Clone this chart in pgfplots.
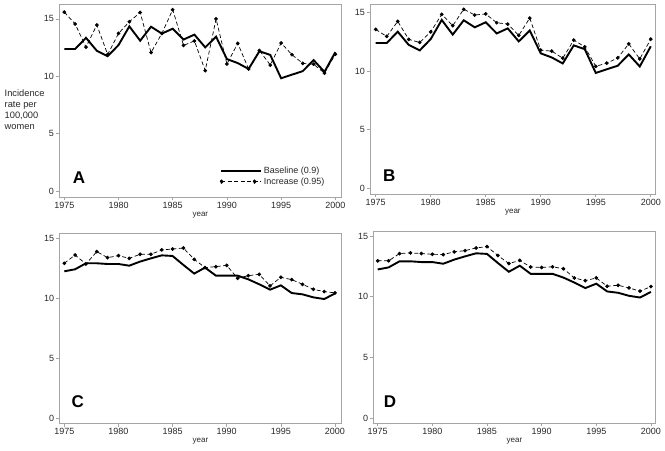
\documentclass[border=0pt]{standalone}
\usepackage{fontspec}
\setmainfont{Liberation Sans}
\usepackage{pgfplots}
\pgfplotsset{compat=1.18}
\usepackage{pgfplotstable}

\pgfplotstableread{
year bA iA iB bC iC iD
1975 12.38 15.59 13.54 12.25 12.92 12.96
1976 12.38 14.56 12.94 12.42 13.61 12.96
1977 13.35 12.54 14.23 12.92 12.86 13.56
1978 12.22 14.47 12.69 12.92 13.89 13.61
1979 11.75 11.90 12.43 12.86 13.39 13.56
1980 12.72 13.73 13.34 12.86 13.56 13.50
1981 14.35 14.76 14.83 12.72 13.33 13.48
1982 13.10 15.56 13.86 13.06 13.67 13.70
1983 14.32 12.07 15.26 13.33 13.67 13.80
1984 13.72 13.73 14.77 13.58 14.03 14.02
1985 14.15 15.80 14.86 13.53 14.11 14.13
1986 13.20 12.69 14.11 12.78 14.19 13.40
1987 13.63 13.08 14.00 12.06 13.25 12.74
1988 12.52 10.50 13.03 12.56 12.56 12.99
1989 13.45 15.00 14.51 11.89 12.64 12.45
1990 11.50 11.07 11.77 11.89 12.75 12.42
1991 11.15 12.87 11.69 11.89 11.67 12.47
1992 10.64 10.64 11.09 11.58 11.89 12.31
1993 12.18 12.25 12.63 11.17 12.00 11.55
1994 11.86 10.98 12.06 10.72 11.03 11.33
1995 9.83 12.90 10.40 11.08 11.75 11.55
1996 10.14 11.88 10.66 10.44 11.56 10.87
1997 10.45 11.12 11.11 10.33 11.17 10.95
1998 11.41 11.05 12.31 10.08 10.75 10.73
1999 10.38 10.27 11.03 9.94 10.56 10.46
2000 12.10 11.92 12.71 10.40 10.45 10.84
}\data

\definecolor{boxgray}{RGB}{165,165,165}
\definecolor{labgray}{RGB}{40,40,40}

\pgfplotsset{
  panel/.style={
    scale only axis, anchor=south west,
    axis line style={draw=boxgray, line width=0.7bp},
    tick style={draw=boxgray, line width=0.7bp},
    tick align=outside, major tick length=3.5bp,
    xtick pos=left, ytick pos=left,
    xtick={1975,1980,...,2000}, ytick={0,5,10,15},
    /pgf/number format/assume math mode=true,
    /pgf/number format/1000 sep={},
    tick label style={font=\fontsize{9bp}{10bp}\selectfont, text=labgray},
    xticklabel style={inner sep=1.5bp},
    yticklabel style={inner sep=1.5bp},
    xlabel={year},
    xlabel style={font=\fontsize{8bp}{9bp}\selectfont, text=labgray, inner sep=0pt, yshift=-1.5bp},
    clip=false,
  },
  base/.style={black, line width=1.9bp, mark=none, line join=miter},
  inc/.style={black, line width=0.7bp, dash pattern=on 4bp off 2.5bp,
    mark=*, mark size=1.5bp, mark options={solid, fill=black, draw=black}},
}

\begin{document}
\begin{tikzpicture}[x=1bp,y=1bp]
\useasboundingbox (0,0) rectangle (665,451);

% Panel A
\begin{axis}[panel, at={(59bp,254bp)}, width=282.7bp, height=193bp,
  xmin=1974.51, xmax=2000.59, ymin=-0.52, ymax=16.30,
  legend style={at={(rel axis cs:0.945,0.05)}, anchor=south east, draw=none, fill=none,
    font=\fontsize{9bp}{10bp}\selectfont, inner sep=0pt, row sep=0bp,
    nodes={inner sep=1.5bp, text=labgray}},
  legend cell align=left]
\addplot[base, legend image code/.code={\path (0bp,0bp) -- (40bp,0bp); \draw[black, solid, line width=2bp] (0bp,0bp) -- (33bp,0bp);}] table[x=year, y=bA] {\data};
\addlegendentry{Baseline (0.9)}
\addplot[inc, legend image code/.code={\path (0bp,0bp) -- (40bp,0bp); \draw[black, line width=0.9bp, dash pattern=on 4bp off 2.5bp] (0bp,0bp) -- (33bp,0bp); \fill[black] (0bp,0bp) circle (1.7bp); \fill[black] (33bp,0bp) circle (1.7bp);}] table[x=year, y=iA] {\data};
\addlegendentry{Increase (0.95)}
\end{axis}

% Panel B
\begin{axis}[panel, at={(370bp,257bp)}, width=285.7bp, height=190bp,
  xmin=1974.48, xmax=2000.45, ymin=-0.49, ymax=15.71]
\addplot[base] table[x=year, y=bA] {\data};
\addplot[inc] table[x=year, y=iB] {\data};
\end{axis}

% Panel C
\begin{axis}[panel, at={(59.3bp,27.7bp)}, width=282.4bp, height=190bp,
  xmin=1974.54, xmax=2000.62, ymin=-0.42, ymax=15.42]
\addplot[base] table[x=year, y=bC] {\data};
\addplot[inc] table[x=year, y=iC] {\data};
\end{axis}

% Panel D
\begin{axis}[panel, at={(373.3bp,28bp)}, width=282.4bp, height=191.3bp,
  xmin=1974.6, xmax=2000.44, ymin=-0.39, ymax=15.36]
\addplot[base] table[x=year, y=bC] {\data};
\addplot[inc] table[x=year, y=iD] {\data};
\end{axis}

% y-axis title
\node[anchor=north west, align=left, inner sep=0pt, text=labgray,
  font=\fontsize{9.3bp}{11bp}\selectfont] at (4.5,361) {Incidence\\rate per\\100,000\\women};

% panel letters
\node[font=\fontsize{17bp}{17bp}\selectfont\bfseries] at (79,273.3) {A};
\node[font=\fontsize{17bp}{17bp}\selectfont\bfseries] at (389.3,275.3) {B};
\node[font=\fontsize{17bp}{17bp}\selectfont\bfseries] at (77.7,49.3) {C};
\node[font=\fontsize{17bp}{17bp}\selectfont\bfseries] at (390,49.3) {D};
\end{tikzpicture}
\end{document}
